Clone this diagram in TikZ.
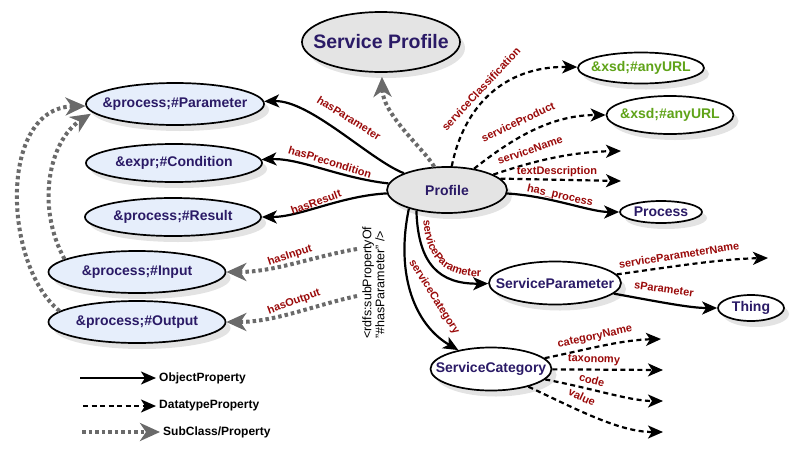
\documentclass[tikz,border=0pt]{standalone}
\usepackage{fontspec}
\setmainfont{Liberation Sans}
\usetikzlibrary{arrows.meta,shapes.geometric,shadows,decorations.text}

\definecolor{classtext}{HTML}{2A1A66}
\definecolor{proptext}{HTML}{9A0A0A}
\definecolor{urlgreen}{HTML}{5FA318}
\definecolor{procfill}{HTML}{E6EEFB}
\definecolor{proffill}{HTML}{E4E4E4}
\definecolor{subgray}{HTML}{6A6A6A}

\newcommand{\ctext}[1]{\makebox[0pt]{#1}}
\newcommand{\propfont}{\bfseries\fontsize{11}{11}\selectfont}

\tikzset {
  class style/.style = {
    ellipse,
    draw=black,
    line width=1.7pt,
    inner sep=0pt,
    text=classtext,
    font=\bfseries\fontsize{14}{14}\selectfont,
    drop shadow={opacity=0.22, shadow xshift=5pt, shadow yshift=-6pt}
  },
  process class/.style = {class style, fill=procfill},
  profile class/.style = {class style, fill=proffill},
  value class/.style = {class style, fill=white},
  object prop/.style = {line width=2.2pt, -{Stealth[length=15pt, width=13pt, inset=4pt]}},
  datatype prop/.style = {line width=2.2pt, dash pattern=on 5pt off 3.5pt,
    -{Stealth[length=15pt, width=13pt, inset=4pt]}},
  sub prop/.style = {line width=4pt, draw=subgray, dash pattern=on 3.5pt off 3pt,
    -{Stealth[length=20pt, width=18pt, inset=6pt]}},
  prop label/.style = {text=proptext, font=\propfont, inner sep=0pt},
  legend label/.style = {anchor=west, inner sep=0pt, font=\bfseries\fontsize{12}{12}\selectfont}
}

\begin{document}
\begin{tikzpicture}[x=1pt, y=-1pt]
\useasboundingbox (0,0) rectangle (807,464);

% --- Classes ---
\node[profile class, minimum width=158pt, minimum height=60pt,
      font=\bfseries\fontsize{19.5}{20}\selectfont] (sprofile) at (381,42) {\ctext{Service Profile}};
\node[profile class, minimum width=120pt, minimum height=46pt] (profile) at (447,190) {\ctext{Profile}};

\node[process class, minimum width=178pt, minimum height=42pt] (param)  at (175,104) {\ctext{\&process;\#Parameter}};
\node[process class, minimum width=176pt, minimum height=38pt] (cond)   at (174,163) {\ctext{\&expr;\#Condition}};
\node[process class, minimum width=176pt, minimum height=38pt] (result) at (173,217) {\ctext{\&process;\#Result}};
\node[process class, minimum width=177pt, minimum height=42pt] (input)  at (137,272) {\ctext{\&process;\#Input}};
\node[process class, minimum width=177pt, minimum height=42pt] (output) at (137,322) {\ctext{\&process;\#Output}};

\node[value class, text=urlgreen, minimum width=126pt, minimum height=31pt] (urlA) at (641,68)  {\ctext{\&xsd;\#anyURL}};
\node[value class, text=urlgreen, minimum width=127pt, minimum height=38pt] (urlB) at (670,115) {\ctext{\&xsd;\#anyURL}};
\node[value class, minimum width=82pt,  minimum height=22pt] (process) at (661,212) {\ctext{Process}};
\node[value class, minimum width=132pt, minimum height=43pt] (sparam)  at (555,283) {\ctext{ServiceParameter}};
\node[value class, minimum width=66pt,  minimum height=26pt] (thing)   at (751,308) {\ctext{Thing}};
\node[value class, minimum width=121pt, minimum height=43pt] (scat)    at (491,369) {\ctext{ServiceCategory}};

% --- Free ends ---
\coordinate (nameEnd) at (621,151);
\coordinate (descEnd) at (621,181);
\coordinate (spnEnd)  at (768,258);
\coordinate (catnEnd) at (661,339);
\coordinate (taxEnd)  at (663,370);
\coordinate (codeEnd) at (663,401);
\coordinate (valEnd)  at (663,432);
\coordinate (inStart)  at (357,249);
\coordinate (outStart) at (357,296);

% --- Profile properties ---
\draw[object prop] (profile) .. controls (370,160) and (310,100) .. (param);
\draw[object prop] (profile) .. controls (340,178) and (300,158) .. (cond);
\draw[object prop] (profile) .. controls (340,196) and (300,217) .. (result);
\draw[sub prop, shorten >=4pt] (profile) .. controls (425,150) and (383,115) .. (sprofile);

\draw[datatype prop] (profile) .. controls (464,105) and (505,66) .. (urlA);
\draw[datatype prop] (profile) .. controls (508,142) and (548,115) .. (urlB);
\draw[datatype prop] (profile) .. controls (525,164) and (565,152) .. (nameEnd);
\draw[datatype prop] (profile.12) -- (descEnd);
\draw[object prop] (profile) .. controls (550,196) and (590,212) .. (process);

\draw[object prop] (profile.214) .. controls (418,265) and (440,284) .. (sparam);
\draw[object prop] (profile.206) .. controls (395,275) and (415,325) .. (scat);

% --- ServiceParameter and ServiceCategory ---
\draw[datatype prop] (sparam) .. controls (670,267) and (720,259) .. (spnEnd);
\draw[object prop] (sparam) .. controls (660,302) and (690,308) .. (thing);

\draw[datatype prop] (scat) .. controls (585,350) and (620,340) .. (catnEnd);
\draw[datatype prop] (scat) -- (taxEnd);
\draw[datatype prop] (scat) .. controls (595,389) and (630,401) .. (codeEnd);
\draw[datatype prop] (scat) .. controls (580,411) and (620,432) .. (valEnd);

% --- Sub properties of hasParameter ---
\node[rotate=90, anchor=north west, align=left, inner sep=0pt,
      font=\fontsize{12.5}{13}\selectfont] (subprop) at (362,339)
      {<rdfs:subPropertyOf\\"\#hasParameter" />};
\draw[sub prop] (inStart) .. controls (315,256) and (275,272) .. (input);
\draw[sub prop] (outStart) .. controls (315,305) and (275,322) .. (output);
\draw[sub prop] (output.172) .. controls (3,265) and (-2,108) .. (param);
\draw[sub prop, shorten >=2pt] (input.170) .. controls (35,205) and (50,140) .. (param.186);

% --- Property labels ---
\node[prop label, rotate=-32] (lblParam)  at (349,118) {hasParameter};
\node[prop label, rotate=-17] (lblCond)   at (330,162) {hasPrecondition};
\node[prop label, rotate=20]  (lblResult) at (316,202) {hasResult};
\node[prop label, rotate=47]  (lblClass)  at (481,89)  {serviceClassification};
\node[prop label, rotate=25]  (lblProd)   at (518,122) {serviceProduct};
\node[prop label, rotate=19]  (lblName)   at (530,150) {serviceName};
\node[prop label]             (lblDesc)   at (557,172) {textDescription};
\node[prop label, rotate=-13] (lblProc)   at (560,196) {has\_process};
\node[prop label, rotate=-58] (lblCat)    at (434,297) {serviceCategory};
\node[prop label, rotate=9]   (lblSpn)    at (679,255) {serviceParameterName};
\node[prop label, rotate=-8]  (lblSp)     at (664,289) {sParameter};
\node[prop label, rotate=12]  (lblCatN)   at (595,337) {categoryName};
\node[prop label, rotate=-2]  (lblTax)    at (594,360) {taxonomy};
\node[prop label, rotate=-15] (lblCode)   at (592,380) {code};
\node[prop label, rotate=-25] (lblValue)  at (582,397) {value};
\node[prop label, rotate=18]  (lblIn)     at (290,256) {hasInput};
\node[prop label, rotate=20]  (lblOut)    at (294,302) {hasOutput};
\path[decorate, decoration={text along path, text align=center,
      text={|\propfont\color{proptext}|serviceParameter}}]
  (423,213) .. controls (424,262) and (446,278) .. (488,277);

% --- Legend ---
\coordinate (objA) at (80,378);  \coordinate (objB) at (156,378);
\coordinate (datA) at (83,406);  \coordinate (datB) at (156,406);
\coordinate (subA) at (82,432);  \coordinate (subB) at (160,432);
\draw[object prop] (objA) -- (objB);
\draw[datatype prop] (datA) -- (datB);
\draw[sub prop] (subA) -- (subB);
\node[legend label] (objText) at (159,378) {ObjectProperty};
\node[legend label] (datText) at (159,406) {DatatypeProperty};
\node[legend label] (subText) at (163,432) {SubClass/Property};

\end{tikzpicture}
\end{document}
